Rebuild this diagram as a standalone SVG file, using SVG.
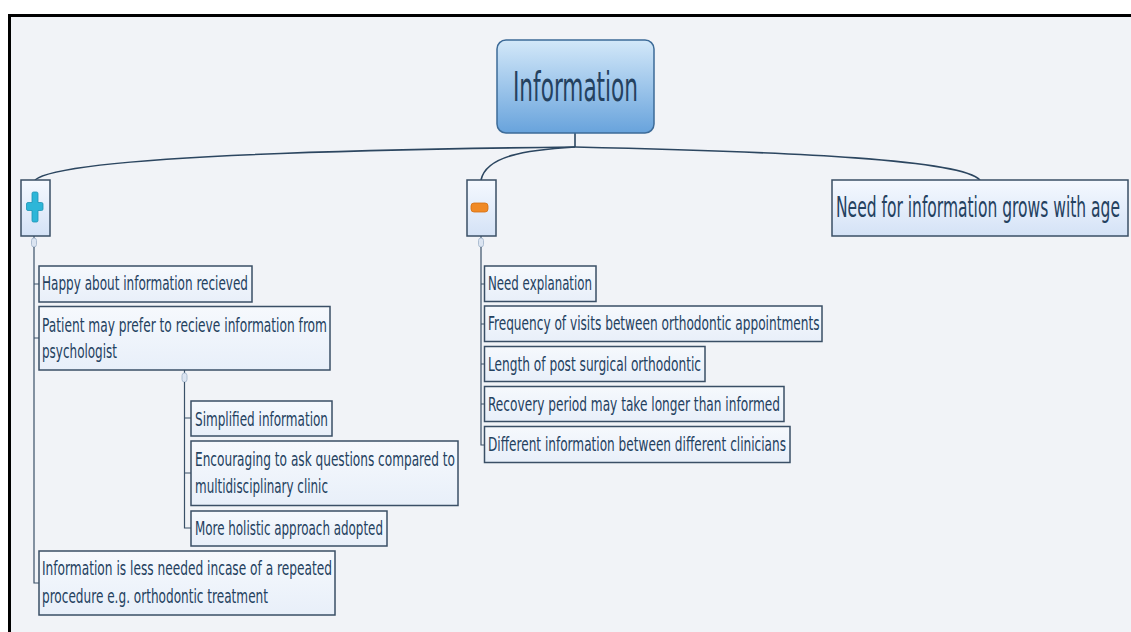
<svg xmlns="http://www.w3.org/2000/svg" width="1131" height="632" viewBox="0 0 1131 632">
<defs>
<linearGradient id="gRoot" x1="0" y1="0" x2="0" y2="1">
<stop offset="0" stop-color="#d3e8f9"/><stop offset="1" stop-color="#68a3dc"/>
</linearGradient>
<linearGradient id="gMain" x1="0" y1="0" x2="0" y2="1">
<stop offset="0" stop-color="#f5f9ff"/><stop offset="1" stop-color="#d4e2f6"/>
</linearGradient>
<linearGradient id="gLeaf" x1="0" y1="0" x2="0" y2="1">
<stop offset="0" stop-color="#f6f9fd"/><stop offset="1" stop-color="#e8eff9"/>
</linearGradient>
</defs>
<style>
.t{font-family:"DejaVu Sans Condensed","DejaVu Sans",sans-serif;fill:#24415f}
.s{font-size:20px}
.leaf{fill:url(#gLeaf);stroke:#3a4f66;stroke-width:1.5}
.main{fill:url(#gMain);stroke:#3a4f66;stroke-width:1.5}
.c{fill:none;stroke:#2c4660;stroke-width:1.6}
.b{fill:none;stroke:#3a5068;stroke-width:1.2}
.pill{fill:#dbe4f1;stroke:#9fb2c9;stroke-width:0.8}
</style>
<rect x="0" y="0" width="1131" height="632" fill="#ffffff"/>
<rect x="10" y="16" width="1121" height="616" fill="#f1f3f7"/>
<line x1="8" y1="15.5" x2="1131" y2="15.5" stroke="#000" stroke-width="3"/>
<line x1="9.5" y1="14" x2="9.5" y2="632" stroke="#000" stroke-width="3"/>

<g id="connectors">
<path class="c" d="M575,133 V147"/>
<path class="c" d="M575,147 C300,150 60,158 35,180"/>
<path class="c" d="M575,147 C525,150 486,156 481,180"/>
<path class="c" d="M575,147 C800,152 962,160 980,180"/>
<path class="b" d="M34,236 V238"/>
<rect class="pill" x="31.5" y="238" width="5" height="9" rx="2.5"/>
<path class="b" d="M34,247 V583 H39 M34,284 H39 M34,338 H39"/>
<path class="b" d="M184.5,370 V373"/>
<rect class="pill" x="182" y="373" width="5" height="9" rx="2.5"/>
<path class="b" d="M184.5,382 V528 H191 M184.5,418 H191 M184.5,473 H191"/>
<path class="b" d="M481,236 V238"/>
<rect class="pill" x="478.5" y="238" width="5" height="9" rx="2.5"/>
<path class="b" d="M481,247 V445 H484 M481,284 H484 M481,324 H484 M481,364 H484 M481,404 H484"/>
</g>

<g id="root">
<rect x="497" y="40" width="157" height="93" rx="9" fill="url(#gRoot)" stroke="#3d6b98" stroke-width="1.5"/>
<text class="t" x="513" y="101" font-size="40" textLength="125" lengthAdjust="spacingAndGlyphs">Information</text>
</g>

<g id="plus">
<rect class="main" x="21" y="180" width="29" height="56"/>
<path d="M33.5,192 h3 a1.5,1.5 0 0 1 1.5,1.5 v9 h3.5 a1.5,1.5 0 0 1 1.5,1.5 v5 a1.5,1.5 0 0 1 -1.5,1.5 h-3.5 v10 a1.5,1.5 0 0 1 -1.5,1.5 h-3 a1.5,1.5 0 0 1 -1.5,-1.5 v-10 h-4 a1.5,1.5 0 0 1 -1.5,-1.5 v-5 a1.5,1.5 0 0 1 1.5,-1.5 h4 v-9 a1.5,1.5 0 0 1 1.5,-1.5 z" fill="#2db6d8" stroke="#1c93b4" stroke-width="0.8"/>
</g>

<g id="minus">
<rect class="main" x="467" y="180" width="29" height="56"/>
<rect x="471" y="203" width="17" height="9" rx="3" fill="#f08a26" stroke="#d46f12" stroke-width="0.8"/>
</g>

<g id="age">
<rect class="main" x="832" y="180" width="296" height="56"/>
<text class="t" transform="translate(836,216.5) scale(1,1.85)" x="0" y="0" font-size="15" textLength="284" lengthAdjust="spacingAndGlyphs">Need for information grows with age</text>
</g>

<g id="happy">
<rect class="leaf" x="39" y="266" width="213" height="36"/>
<text class="t s" x="42" y="290" textLength="206" lengthAdjust="spacingAndGlyphs">Happy about information recieved</text>
</g>

<g id="patient">
<rect class="leaf" x="39" y="306.5" width="291" height="63.5"/>
<text class="t s" x="42" y="331.5" textLength="285" lengthAdjust="spacingAndGlyphs">Patient may prefer to recieve information from</text>
<text class="t s" x="42" y="358" textLength="75" lengthAdjust="spacingAndGlyphs">psychologist</text>
</g>

<g id="simplified">
<rect class="leaf" x="191" y="401" width="141" height="35"/>
<text class="t s" x="195" y="425.5" textLength="133" lengthAdjust="spacingAndGlyphs">Simplified information</text>
</g>

<g id="encouraging">
<rect class="leaf" x="191" y="441" width="267" height="64.5"/>
<text class="t s" x="195" y="466" textLength="260" lengthAdjust="spacingAndGlyphs">Encouraging to ask questions compared to</text>
<text class="t s" x="195" y="493" textLength="133" lengthAdjust="spacingAndGlyphs">multidisciplinary clinic</text>
</g>

<g id="holistic">
<rect class="leaf" x="191" y="511" width="196" height="35"/>
<text class="t s" x="195" y="535" textLength="188" lengthAdjust="spacingAndGlyphs">More holistic approach adopted</text>
</g>

<g id="lessneeded">
<rect class="leaf" x="39" y="551" width="296" height="64"/>
<text class="t s" x="42" y="575" textLength="290" lengthAdjust="spacingAndGlyphs">Information is less needed incase of a repeated</text>
<text class="t s" x="42" y="602.5" textLength="226" lengthAdjust="spacingAndGlyphs">procedure e.g. orthodontic treatment</text>
</g>

<g id="explanation">
<rect class="leaf" x="484.5" y="266" width="111.5" height="35.5"/>
<text class="t s" x="488" y="290" textLength="104" lengthAdjust="spacingAndGlyphs">Need explanation</text>
</g>

<g id="frequency">
<rect class="leaf" x="484.5" y="306" width="337.5" height="35.5"/>
<text class="t s" x="488" y="330" textLength="331.5" lengthAdjust="spacingAndGlyphs">Frequency of visits between orthodontic appointments</text>
</g>

<g id="length">
<rect class="leaf" x="484.5" y="346.5" width="220.5" height="35"/>
<text class="t s" x="488" y="370.5" textLength="213" lengthAdjust="spacingAndGlyphs">Length of post surgical orthodontic</text>
</g>

<g id="recovery">
<rect class="leaf" x="484.5" y="386.5" width="299.5" height="35"/>
<text class="t s" x="488" y="410.5" textLength="292" lengthAdjust="spacingAndGlyphs">Recovery period may take longer than informed</text>
</g>

<g id="different">
<rect class="leaf" x="484.5" y="426.5" width="305.5" height="36"/>
<text class="t s" x="488" y="451" textLength="298" lengthAdjust="spacingAndGlyphs">Different information between different clinicians</text>
</g>
</svg>
